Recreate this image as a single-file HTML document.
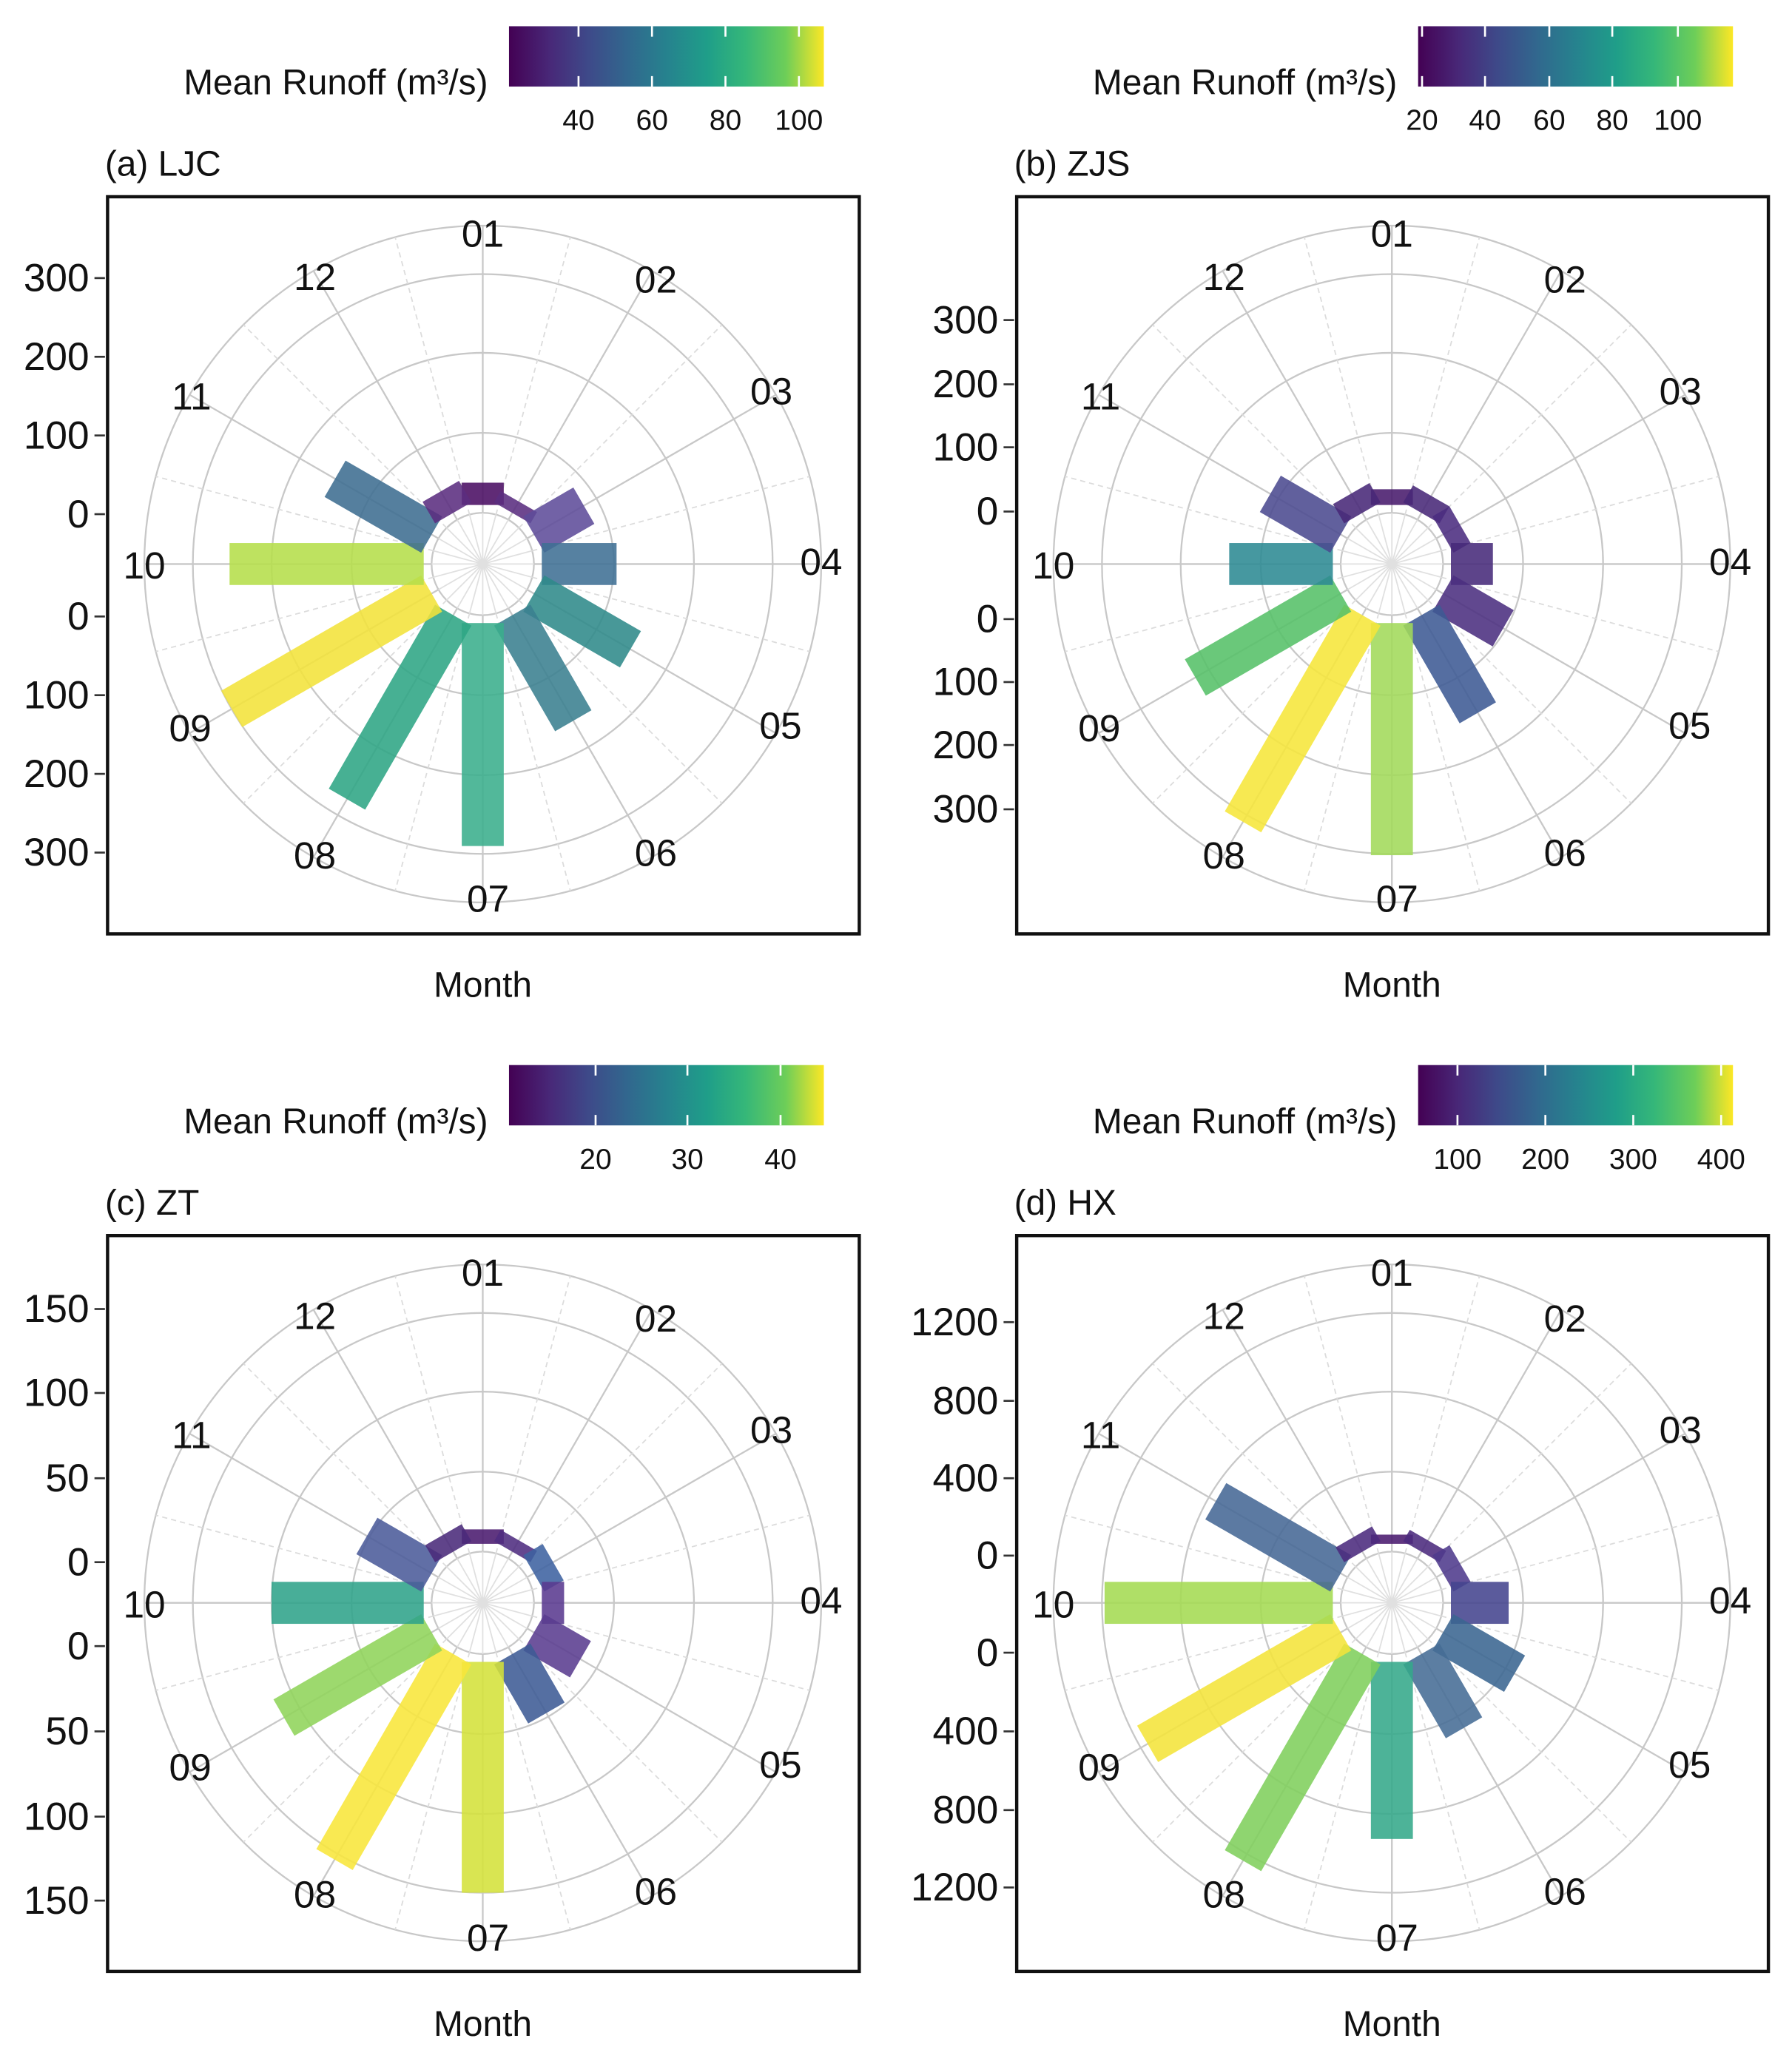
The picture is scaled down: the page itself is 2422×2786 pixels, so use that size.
<!DOCTYPE html>
<html><head><meta charset="utf-8">
<style>
html,body{margin:0;padding:0;background:#fff;}
svg{display:block;}
text{font-family:"Liberation Sans",sans-serif;fill:#111;}
.tk{font-size:30px;text-anchor:end;}
.mo{font-size:29px;text-anchor:middle;dominant-baseline:central;}
.ti{font-size:27px;}
.ax{font-size:27px;text-anchor:middle;}
.cb{font-size:22px;text-anchor:middle;}
.lt{font-size:27px;text-anchor:end;}
</style></head><body>
<svg id="s" width="2422" height="2786" viewBox="0 0 1366 1571.3" preserveAspectRatio="none" xmlns="http://www.w3.org/2000/svg">
<defs>
<linearGradient id="vir" x1="0" x2="1" y1="0" y2="0">
<stop offset="0" stop-color="#440154"/><stop offset="0.13" stop-color="#482878"/>
<stop offset="0.25" stop-color="#3e4989"/><stop offset="0.38" stop-color="#31688e"/>
<stop offset="0.5" stop-color="#26828e"/><stop offset="0.63" stop-color="#1f9e89"/>
<stop offset="0.75" stop-color="#35b779"/><stop offset="0.88" stop-color="#6ece58"/>
<stop offset="1" stop-color="#fde725"/></linearGradient>
</defs>
<g id="grids"></g>
<g id="bars"></g>

<rect x="82" y="150" width="573" height="562" fill="none" stroke="#111" stroke-width="2.5"/>
<rect x="775" y="150" width="573" height="562" fill="none" stroke="#111" stroke-width="2.5"/>
<rect x="82" y="942" width="573" height="561" fill="none" stroke="#111" stroke-width="2.5"/>
<rect x="775" y="942" width="573" height="561" fill="none" stroke="#111" stroke-width="2.5"/>

<rect x="388" y="20" width="240" height="46" fill="url(#vir)"/>
<rect x="1081" y="20" width="240" height="46" fill="url(#vir)"/>
<rect x="388" y="812" width="240" height="46" fill="url(#vir)"/>
<rect x="1081" y="812" width="240" height="46" fill="url(#vir)"/>
<g stroke="#fff" stroke-width="1.5">
<path d="M441 20v8M441 58v8M497 20v8M497 58v8M553 20v8M553 58v8M609 20v8M609 58v8"/>
<path d="M1084 20v8M1084 58v8M1132 20v8M1132 58v8M1181 20v8M1181 58v8M1229 20v8M1229 58v8M1279 20v8M1279 58v8"/>
<path d="M454 812v8M454 850v8M524 812v8M524 850v8M595 812v8M595 850v8"/>
<path d="M1111 812v8M1111 850v8M1178 812v8M1178 850v8M1245 812v8M1245 850v8M1312 812v8M1312 850v8"/>
</g>
<text class="lt" x="372" y="72">Mean Runoff (m³/s)</text>
<text class="lt" x="1065" y="72">Mean Runoff (m³/s)</text>
<text class="lt" x="372" y="864">Mean Runoff (m³/s)</text>
<text class="lt" x="1065" y="864">Mean Runoff (m³/s)</text>
<text class="cb" x="441" y="99">40</text><text class="cb" x="497" y="99">60</text><text class="cb" x="553" y="99">80</text><text class="cb" x="609" y="99">100</text>
<text class="cb" x="1084" y="99">20</text><text class="cb" x="1132" y="99">40</text><text class="cb" x="1181" y="99">60</text><text class="cb" x="1229" y="99">80</text><text class="cb" x="1279" y="99">100</text>
<text class="cb" x="454" y="891">20</text><text class="cb" x="524" y="891">30</text><text class="cb" x="595" y="891">40</text>
<text class="cb" x="1111" y="891">100</text><text class="cb" x="1178" y="891">200</text><text class="cb" x="1245" y="891">300</text><text class="cb" x="1312" y="891">400</text>

<text class="ti" x="80" y="134">(a) LJC</text>
<text class="ti" x="773" y="134">(b) ZJS</text>
<text class="ti" x="80" y="926">(c) ZT</text>
<text class="ti" x="773" y="926">(d) HX</text>
<text class="ax" x="368" y="760">Month</text>
<text class="ax" x="1061" y="760">Month</text>
<text class="ax" x="368" y="1552">Month</text>
<text class="ax" x="1061" y="1552">Month</text>

<g id="ticks" stroke="#333" stroke-width="1.5"></g>
<text class="tk" x="68" y="222">300</text><text class="tk" x="68" y="282">200</text><text class="tk" x="68" y="342">100</text><text class="tk" x="68" y="402">0</text>
<text class="tk" x="68" y="480">0</text><text class="tk" x="68" y="540">100</text><text class="tk" x="68" y="600">200</text><text class="tk" x="68" y="660">300</text>
<text class="tk" x="761" y="254">300</text><text class="tk" x="761" y="303">200</text><text class="tk" x="761" y="351">100</text><text class="tk" x="761" y="400">0</text>
<text class="tk" x="761" y="482">0</text><text class="tk" x="761" y="530">100</text><text class="tk" x="761" y="578">200</text><text class="tk" x="761" y="627">300</text>
<text class="tk" x="68" y="1008">150</text><text class="tk" x="68" y="1072">100</text><text class="tk" x="68" y="1137">50</text><text class="tk" x="68" y="1201">0</text>
<text class="tk" x="68" y="1265">0</text><text class="tk" x="68" y="1330">50</text><text class="tk" x="68" y="1395">100</text><text class="tk" x="68" y="1459">150</text>
<text class="tk" x="761" y="1018">1200</text><text class="tk" x="761" y="1078">800</text><text class="tk" x="761" y="1137">400</text><text class="tk" x="761" y="1196">0</text>
<text class="tk" x="761" y="1270">0</text><text class="tk" x="761" y="1330">400</text><text class="tk" x="761" y="1390">800</text><text class="tk" x="761" y="1449">1200</text>

<g>
<text class="mo" x="368" y="178">01</text><text class="mo" x="500" y="213">02</text><text class="mo" x="588" y="298">03</text>
<text class="mo" x="626" y="428">04</text><text class="mo" x="595" y="553">05</text><text class="mo" x="500" y="650">06</text>
<text class="mo" x="372" y="685">07</text><text class="mo" x="240" y="652">08</text><text class="mo" x="145" y="555">09</text>
<text class="mo" x="110" y="431">10</text><text class="mo" x="146" y="302">11</text><text class="mo" x="240" y="211">12</text>
</g>
<g transform="translate(693,0)">
<text class="mo" x="368" y="178">01</text><text class="mo" x="500" y="213">02</text><text class="mo" x="588" y="298">03</text>
<text class="mo" x="626" y="428">04</text><text class="mo" x="595" y="553">05</text><text class="mo" x="500" y="650">06</text>
<text class="mo" x="372" y="685">07</text><text class="mo" x="240" y="652">08</text><text class="mo" x="145" y="555">09</text>
<text class="mo" x="110" y="431">10</text><text class="mo" x="146" y="302">11</text><text class="mo" x="240" y="211">12</text>
</g>
<g transform="translate(0,792)">
<text class="mo" x="368" y="178">01</text><text class="mo" x="500" y="213">02</text><text class="mo" x="588" y="298">03</text>
<text class="mo" x="626" y="428">04</text><text class="mo" x="595" y="553">05</text><text class="mo" x="500" y="650">06</text>
<text class="mo" x="372" y="685">07</text><text class="mo" x="240" y="652">08</text><text class="mo" x="145" y="555">09</text>
<text class="mo" x="110" y="431">10</text><text class="mo" x="146" y="302">11</text><text class="mo" x="240" y="211">12</text>
</g>
<g transform="translate(693,792)">
<text class="mo" x="368" y="178">01</text><text class="mo" x="500" y="213">02</text><text class="mo" x="588" y="298">03</text>
<text class="mo" x="626" y="428">04</text><text class="mo" x="595" y="553">05</text><text class="mo" x="500" y="650">06</text>
<text class="mo" x="372" y="685">07</text><text class="mo" x="240" y="652">08</text><text class="mo" x="145" y="555">09</text>
<text class="mo" x="110" y="431">10</text><text class="mo" x="146" y="302">11</text><text class="mo" x="240" y="211">12</text>
</g>
</svg>
<script>
var NS="http://www.w3.org/2000/svg";
function el(p,t,a){var e=document.createElementNS(NS,t);for(var k in a)e.setAttribute(k,a[k]);p.appendChild(e);return e;}
var G=document.getElementById("grids"),B=document.getElementById("bars"),T=document.getElementById("ticks");
var panels=[
 {cx:368,cy:430,r:[62,55,89,102,130,138,215,207,221,193,130,64],
  c:["#4a0e63","#5a2d80","#5e4c9a","#3f6f94","#2f8a8a","#3a7f90","#3aae8c","#2ea584","#f2e33a","#b5de4a","#3e6d91","#5b2d80"],
  ty:[212,272,332,392,470,530,590,650],tx:72},
 {cx:1061,cy:430,r:[57,60,60,77,98,131,222,227,173,124,107,62],
  c:["#481a6c","#482878","#4b2c7f","#472a7a","#4b2f80","#3e5a94","#a2da5a","#f6e63a","#55c068","#2c8a93","#4b4a90","#482878"],
  ty:[244,293,341,390,472,520,568,617],tx:765},
 {cx:368,cy:1222,r:[56,55,62,62,86,97,221,226,175,161,102,60],
  c:["#4a1a6e","#4f2c80","#3d62a0","#5a3a8f","#5a3c90","#3d5b95","#d4e13a","#f8e63a","#8fd45a","#2fa38a","#4b5b9a","#4a2a7a"],
  ty:[998,1062,1127,1191,1255,1320,1385,1449],tx:72},
 {cx:1061,cy:1222,r:[52,55,60,89,108,110,180,227,215,219,155,58],
  c:["#4a1a6e","#4b2a7d","#4e3a8c","#44448e","#3a6591","#456c95","#34a88a","#7fcf5c","#f4e43a","#a4db52","#456895","#4b2a7d"],
  ty:[1008,1068,1127,1186,1260,1320,1380,1439],tx:765}
];
panels.forEach(function(p){
  [39,100,161,221,258].forEach(function(r){el(G,"circle",{cx:p.cx,cy:p.cy,r:r,fill:"none",stroke:"#c8c8c8","stroke-width":1.3});});
  for(var i=0;i<24;i++){
    var a=i*15*Math.PI/180,s=Math.sin(a),c=-Math.cos(a);
    if(i%2==0) el(G,"line",{x1:p.cx+39*s,y1:p.cy+39*c,x2:p.cx+258*s,y2:p.cy+258*c,stroke:"#c8c8c8","stroke-width":1.3});
    else el(G,"line",{x1:p.cx+39*s,y1:p.cy+39*c,x2:p.cx+258*s,y2:p.cy+258*c,stroke:"#dcdcdc","stroke-width":1,"stroke-dasharray":"4,3"});
    el(G,"line",{x1:p.cx,y1:p.cy,x2:p.cx+39*s,y2:p.cy+39*c,stroke:"#e0e0e0","stroke-width":1});
  }
  for(var m=0;m<12;m++){
    var r1=p.r[m];
    el(B,"rect",{x:-16,y:-r1,width:32,height:r1-45,fill:p.c[m],"fill-opacity":0.88,
      transform:"translate("+p.cx+","+p.cy+") rotate("+(m*30)+")"});
  }
  p.ty.forEach(function(y){el(T,"line",{x1:p.tx,y1:y,x2:p.tx+8,y2:y});});
});
</script>
</body></html>
